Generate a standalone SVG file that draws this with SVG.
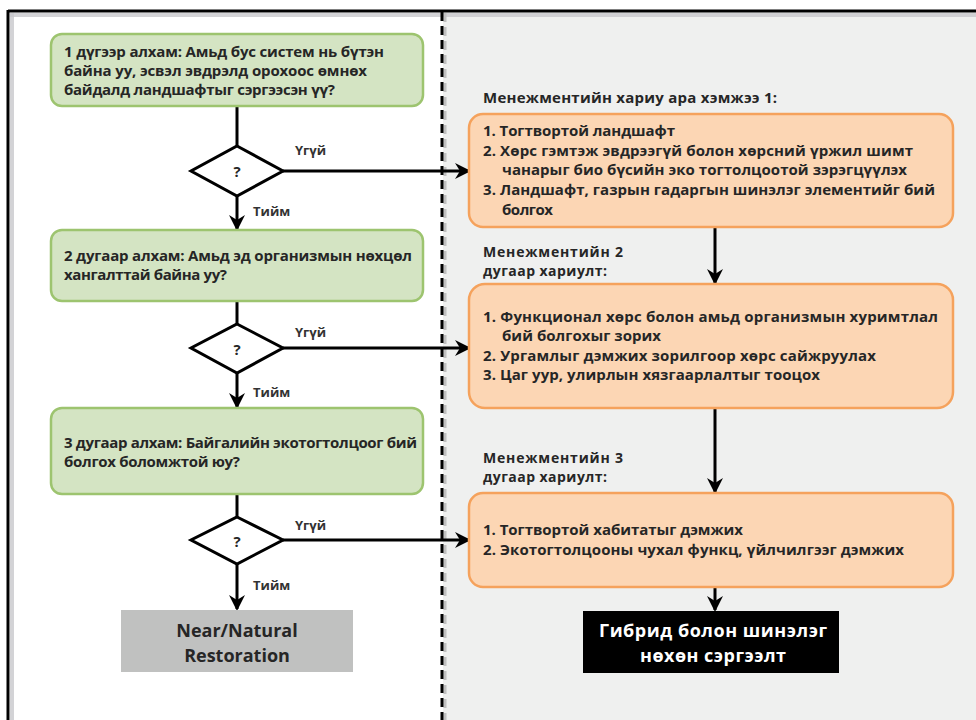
<svg xmlns="http://www.w3.org/2000/svg" width="976" height="720" viewBox="0 0 976 720">
<defs>
<style>
.t{font-family:"Open Sans","Noto Sans","DejaVu Sans",sans-serif;font-weight:700;font-size:15px;fill:#262626}
.h{font-family:"Open Sans","Noto Sans","DejaVu Sans",sans-serif;font-weight:700;font-size:14px;fill:#262626}
.lbl{font-family:"Open Sans","Noto Sans","DejaVu Sans",sans-serif;font-weight:700;font-size:13px;fill:#333}
.green{fill:#d4e4c3;stroke:#9dc46f;stroke-width:2.5}
.orange{fill:#fcd6b4;stroke:#f5a25c;stroke-width:2.5}
.dia{fill:#fff;stroke:#000;stroke-width:3}
.ln{stroke:#000;stroke-width:3;fill:none}
.arr{stroke:#000;stroke-width:3;fill:none;marker-end:url(#ah)}
</style>
<marker id="ah" viewBox="0 0 16 16" refX="14" refY="8" markerWidth="16" markerHeight="16" markerUnits="userSpaceOnUse" orient="auto">
<path d="M0,0 L16,8 L0,16 L5,8 Z" fill="#000"/>
</marker>
</defs>
<!-- background -->
<rect x="0" y="0" width="976" height="720" fill="#fff"/>
<rect x="443" y="12" width="533" height="708" fill="#eff0ef"/>
<!-- frame shadows -->
<rect x="10" y="13" width="966" height="4" fill="#c8c8cc" opacity="0.8"/>
<rect x="10" y="13" width="4" height="707" fill="#c8c8cc" opacity="0.8"/>
<line x1="445" y1="13" x2="445" y2="720" stroke="#c0c0c0" stroke-width="3" stroke-dasharray="9,5"/>
<!-- frame -->
<line x1="8" y1="11" x2="976" y2="11" stroke="#000" stroke-width="3"/>
<line x1="8" y1="10" x2="8" y2="720" stroke="#000" stroke-width="3"/>
<line x1="442" y1="12" x2="442" y2="720" stroke="#000" stroke-width="3" stroke-dasharray="9,5"/>

<g id="connectors">
<line class="ln" x1="237" y1="106" x2="237" y2="146"/>
<line class="arr" x1="237" y1="196" x2="237" y2="229"/>
<line class="arr" x1="283" y1="171" x2="469" y2="171"/>
<line class="ln" x1="237" y1="301" x2="237" y2="324"/>
<line class="arr" x1="237" y1="373" x2="237" y2="407"/>
<line class="arr" x1="283" y1="348" x2="469" y2="348"/>
<line class="ln" x1="237" y1="494" x2="237" y2="517"/>
<line class="arr" x1="237" y1="564" x2="237" y2="609"/>
<line class="arr" x1="283" y1="540" x2="469" y2="540"/>
<line class="arr" x1="715" y1="228" x2="715" y2="283"/>
<line class="arr" x1="715" y1="409" x2="715" y2="492"/>
<line class="arr" x1="715" y1="588" x2="715" y2="610"/>
<text class="lbl" x="295" y="155">Үгүй</text>
<text class="lbl" x="253" y="216">Тийм</text>
<text class="lbl" x="295" y="337">Үгүй</text>
<text class="lbl" x="253" y="397">Тийм</text>
<text class="lbl" x="295" y="530">Үгүй</text>
<text class="lbl" x="253" y="590">Тийм</text>
</g>

<g id="step1">
<rect class="green" x="51" y="34" width="372" height="72" rx="11"/>
<text class="t" x="64" y="57" textLength="320">1 дүгээр алхам: Амьд бус систем нь бүтэн</text>
<text class="t" x="64" y="76" textLength="303">байна уу, эсвэл эвдрэлд орохоос өмнөх</text>
<text class="t" x="64" y="95" textLength="271">байдалд ландшафтыг сэргээсэн үү?</text>
</g>
<g id="decision1">
<polygon class="dia" points="237,146 283,171 237,196 191,171"/>
<text class="t" x="237" y="177" text-anchor="middle">?</text>
</g>
<g id="step2">
<rect class="green" x="51" y="230" width="372" height="71" rx="11"/>
<text class="t" x="64" y="261" textLength="348">2 дугаар алхам: Амьд эд организмын нөхцөл</text>
<text class="t" x="64" y="280" textLength="163">хангалттай байна уу?</text>
</g>
<g id="decision2">
<polygon class="dia" points="237,324 283,348 237,373 191,348"/>
<text class="t" x="237" y="355" text-anchor="middle">?</text>
</g>
<g id="step3">
<rect class="green" x="51" y="408" width="372" height="86" rx="11"/>
<text class="t" x="64" y="448" textLength="353">3 дугаар алхам: Байгалийн экотогтолцоог бий</text>
<text class="t" x="64" y="467" textLength="176">болгох боломжтой юу?</text>
</g>
<g id="decision3">
<polygon class="dia" points="237,517 283,540 237,564 191,540"/>
<text class="t" x="237" y="547" text-anchor="middle">?</text>
</g>
<g id="natural">
<rect x="121" y="610" width="232" height="62" fill="#c0c1c0"/>
<text class="t" x="237" y="637" text-anchor="middle" style="font-size:18px">Near/Natural</text>
<text class="t" x="237" y="662" text-anchor="middle" style="font-size:18px">Restoration</text>
</g>

<g id="response1">
<text class="t" x="483" y="103" textLength="294">Менежментийн хариу ара хэмжээ 1:</text>
<rect class="orange" x="469" y="114" width="484" height="113" rx="14"/>
<text class="t" x="483" y="136" textLength="192">1. Тогтвортой ландшафт</text>
<text class="t" x="483" y="156" textLength="430">2. Хөрс гэмтэж эвдрээгүй болон хөрсний үржил шимт</text>
<text class="t" x="502" y="175" textLength="405">чанарыг био бүсийн эко тогтолцоотой зэрэгцүүлэх</text>
<text class="t" x="483" y="195" textLength="452">3. Ландшафт, газрын гадаргын шинэлэг элементийг бий</text>
<text class="t" x="502" y="215" textLength="51">болгох</text>
</g>
<g id="response2">
<text class="h" x="483" y="257" textLength="140">Менежментийн 2</text>
<text class="h" x="483" y="276" textLength="124">дугаар хариулт:</text>
<rect class="orange" x="469" y="284" width="484" height="124" rx="16"/>
<text class="t" x="483" y="322" textLength="455">1. Функционал хөрс болон амьд организмын хуримтлал</text>
<text class="t" x="502" y="341" textLength="159">бий болгохыг зорих</text>
<text class="t" x="483" y="361" textLength="393">2. Ургамлыг дэмжих зорилгоор хөрс сайжруулах</text>
<text class="t" x="483" y="380" textLength="337">3. Цаг уур, улирлын хязгаарлалтыг тооцох</text>
</g>
<g id="response3">
<text class="h" x="483" y="463" textLength="140">Менежментийн 3</text>
<text class="h" x="483" y="482" textLength="124">дугаар хариулт:</text>
<rect class="orange" x="469" y="493" width="484" height="94" rx="14"/>
<text class="t" x="483" y="535" textLength="260">1. Тогтвортой хабитатыг дэмжих</text>
<text class="t" x="483" y="555" textLength="421">2. Экотогтолцооны чухал функц, үйлчилгээг дэмжих</text>
</g>
<g id="hybrid">
<rect x="583" y="611" width="256" height="62" fill="#000"/>
<text class="t" x="713" y="637" text-anchor="middle" textLength="228" style="font-size:18px;fill:#fff">Гибрид болон шинэлэг</text>
<text class="t" x="713" y="662" text-anchor="middle" textLength="146" style="font-size:18px;fill:#fff">нөхөн сэргээлт</text>
</g>
</svg>
